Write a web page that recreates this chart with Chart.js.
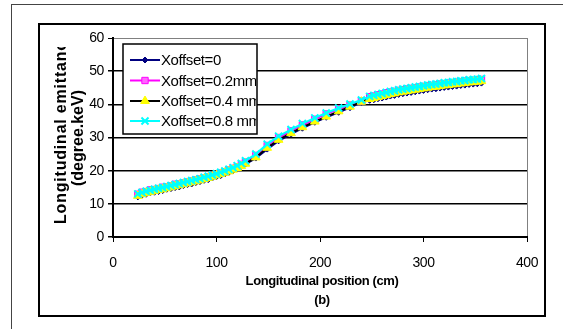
<!DOCTYPE html>
<html>
<head>
<meta charset="utf-8">
<script src="https://cdn.jsdelivr.net/npm/chart.js@4.4.1/dist/chart.umd.min.js"></script>
<style>
    html, body { margin: 0; padding: 0; background: #fff; }
    #wrap { width: 563px; height: 329px; }
</style>
</head>
<body>
<div id="wrap"><canvas id="emittanceChart" width="563" height="329"></canvas></div>
<script>
// longitudinal position (cm), shared by all four runs
const positions = [
    24, 28, 32, 36, 40, 44, 48, 52, 56, 60, 64, 68, 72, 76, 80, 84, 88, 92, 96, 100, 104, 108, 112, 116, 120, 124, 128,
    138, 149, 160, 172, 183, 195, 206, 218, 229, 240,
    248, 252, 256, 260, 264, 268, 272, 276, 280, 284, 288, 292, 296, 300, 304, 308, 312, 316, 320, 324, 328, 332, 336, 340, 344, 348, 352, 356
];

// longitudinal emittance (degree.keV)
const offset0 = [
    12.1, 12.6, 12.9, 13.3, 13.5, 13.7, 14.0, 14.4, 14.6, 14.9, 15.1, 15.5, 15.8, 16.0, 16.4, 16.7, 17.1, 17.3, 17.8, 18.2, 18.5, 19.0, 19.5, 20.0, 20.6, 21.3, 22.0,
    23.8, 26.5, 29.0, 31.0, 32.8, 34.6, 36.1, 37.6, 39.0, 40.6,
    41.2, 41.4, 41.7, 41.9, 42.2, 42.5, 42.7, 43.0, 43.2, 43.4, 43.6, 43.8, 44.0, 44.2, 44.4, 44.6, 44.7, 44.9, 45.1, 45.2, 45.4, 45.5, 45.7, 45.8, 46.0, 46.1, 46.2, 46.4
];
const offset02 = [
    12.9, 13.5, 13.7, 14.2, 14.3, 14.6, 15.0, 15.1, 15.4, 15.9, 16.0, 16.3, 16.6, 16.9, 17.2, 17.5, 17.8, 18.2, 18.5, 18.9, 19.3, 19.7, 20.2, 20.7, 21.2, 21.9, 22.6,
    24.6, 27.6, 30.0, 32.0, 33.8, 35.5, 37.1, 38.6, 39.8, 41.0,
    42.3, 42.5, 42.9, 43.1, 43.5, 43.7, 43.9, 44.2, 44.4, 44.6, 44.8, 45.0, 45.2, 45.4, 45.6, 45.7, 45.9, 46.1, 46.2, 46.4, 46.5, 46.7, 46.8, 47.0, 47.1, 47.2, 47.4, 47.5
];
const offset04 = [
    12.4, 12.9, 13.3, 13.6, 13.9, 14.2, 14.4, 14.7, 15.0, 15.3, 15.6, 15.9, 16.2, 16.5, 16.8, 17.1, 17.5, 17.8, 18.2, 18.6, 19.0, 19.4, 19.8, 20.3, 20.8, 21.4, 22.1,
    24.0, 26.9, 29.3, 31.3, 33.1, 34.8, 36.3, 37.9, 39.3, 40.8,
    41.6, 41.9, 42.2, 42.5, 42.8, 43.1, 43.3, 43.6, 43.8, 44.0, 44.2, 44.4, 44.6, 44.8, 45.0, 45.2, 45.3, 45.5, 45.7, 45.8, 46.0, 46.1, 46.3, 46.4, 46.6, 46.7, 46.8, 47.0
];
const offset08 = [
    13.0, 13.4, 13.8, 14.1, 14.4, 14.7, 14.9, 15.2, 15.5, 15.8, 16.1, 16.4, 16.7, 17.0, 17.3, 17.6, 18.0, 18.3, 18.7, 19.1, 19.5, 19.9, 20.4, 20.9, 21.5, 22.2, 23.0,
    25.0, 28.0, 30.4, 32.4, 34.2, 35.9, 37.4, 38.9, 40.1, 41.3,
    42.4, 42.7, 43.0, 43.3, 43.6, 43.9, 44.1, 44.4, 44.6, 44.8, 45.0, 45.2, 45.4, 45.6, 45.8, 46.0, 46.1, 46.3, 46.5, 46.6, 46.8, 46.9, 47.1, 47.2, 47.4, 47.5, 47.6, 47.8
];

const seriesLabels = ["Xoffset=0", "Xoffset=0.2mm", "Xoffset=0.4 mm", "Xoffset=0.8 mm"];
const xTicks = [0, 100, 200, 300, 400];
const yTicks = [0, 10, 20, 30, 40, 50, 60];

const FONT = "'Liberation Sans', Arial, sans-serif";

function toPoints(values) {
    return values.map((v, i) => ({ x: positions[i], y: v }));
}

function drawMarker(ctx, style, x, y, r, fill, stroke, lw) {
    ctx.save();
    ctx.fillStyle = fill;
    ctx.strokeStyle = stroke;
    ctx.lineWidth = lw;
    ctx.beginPath();
    if (style === "rectRot") {
        ctx.moveTo(x, y - r); ctx.lineTo(x + r, y); ctx.lineTo(x, y + r); ctx.lineTo(x - r, y);
        ctx.closePath(); ctx.fill(); ctx.stroke();
    } else if (style === "rect") {
        const s = r * Math.SQRT1_2;
        ctx.rect(x - s, y - s, 2 * s, 2 * s); ctx.fill(); ctx.stroke();
    } else if (style === "triangle") {
        ctx.moveTo(x, y - r); ctx.lineTo(x + r * 0.87, y + r * 0.5); ctx.lineTo(x - r * 0.87, y + r * 0.5);
        ctx.closePath(); ctx.fill(); ctx.stroke();
    } else if (style === "crossRot") {
        const s = r * Math.SQRT1_2;
        ctx.moveTo(x - s, y - s); ctx.lineTo(x + s, y + s);
        ctx.moveTo(x + s, y - s); ctx.lineTo(x - s, y + s);
        ctx.stroke();
    }
    ctx.restore();
}

const framePlugin = {
    id: "frames",
    beforeDraw(chart) {
        const ctx = chart.ctx;
        ctx.save();
        ctx.fillStyle = "#fff";
        ctx.fillRect(0, 0, chart.width, chart.height);
        ctx.strokeStyle = "#444";
        ctx.lineWidth = 1;
        ctx.strokeRect(11.5, 4.5, 620, 400);
        ctx.strokeStyle = "#000";
        ctx.lineWidth = 2;
        ctx.strokeRect(39, 24, 506, 292);
        ctx.restore();
        ctx.letterSpacing = "-0.4px";
    },
    afterDraw(chart) {
        const ctx = chart.ctx;
        const area = chart.chartArea;

        // legend box inside the plot
        const box = { x: 123, y: 44, w: 134, h: 90 };
        ctx.save();
        ctx.fillStyle = "#fff";
        ctx.fillRect(box.x, box.y, box.w, box.h);
        ctx.strokeStyle = "#000";
        ctx.lineWidth = 1.5;
        ctx.strokeRect(box.x, box.y, box.w, box.h);
        ctx.beginPath();
        ctx.rect(box.x + 1, box.y + 1, box.w - 2, box.h - 2);
        ctx.clip();
        const rows = [60, 80.5, 101, 121];
        chart.data.datasets.forEach((ds, i) => {
            const y = rows[i];
            ctx.strokeStyle = ds.borderColor;
            ctx.lineWidth = 2;
            ctx.beginPath();
            ctx.moveTo(130, y);
            ctx.lineTo(160, y);
            ctx.stroke();
            drawMarker(ctx, ds.pointStyle, 145, y, ds.pointRadius, ds.pointBackgroundColor, ds.pointBorderColor, ds.pointBorderWidth);
            ctx.fillStyle = "#000";
            ctx.font = "15px " + FONT;
            ctx.letterSpacing = "-0.4px";
            ctx.textAlign = "left";
            ctx.textBaseline = "middle";
            ctx.fillText(ds.label, 161, y + 1);
        });
        ctx.restore();

        // axis titles
        ctx.save();
        ctx.fillStyle = "#000";
        ctx.font = "bold 13px " + FONT;
        ctx.letterSpacing = "-0.4px";
        ctx.textAlign = "center";
        ctx.textBaseline = "middle";
        const cx = (area.left + area.right) / 2 + 2;
        ctx.fillText("Longitudinal position (cm)", cx, 281);
        ctx.fillText("(b)", cx, 300);
        ctx.restore();

        ctx.save();
        ctx.fillStyle = "#000";
        ctx.font = "bold 16px " + FONT;
        ctx.letterSpacing = "0.8px";
        ctx.textBaseline = "middle";
        ctx.beginPath();
        ctx.rect(0, 47, chart.width, chart.height - 47);
        ctx.clip();
        ctx.translate(62, 224);
        ctx.rotate(-Math.PI / 2);
        ctx.textAlign = "left";
        ctx.fillText("Longitudinal emittance", 0, 0);
        ctx.restore();

        ctx.save();
        ctx.fillStyle = "#000";
        ctx.font = "bold 16px " + FONT;
        ctx.letterSpacing = "0px";
        ctx.textBaseline = "middle";
        ctx.translate(79, 138);
        ctx.rotate(-Math.PI / 2);
        ctx.textAlign = "center";
        ctx.fillText("(degree.keV)", 0, 0);
        ctx.restore();
    }
};

Chart.defaults.font.family = FONT;
Chart.defaults.font.size = 14;
Chart.defaults.color = "#000";

new Chart(document.getElementById("emittanceChart"), {
    type: "scatter",
    data: {
        datasets: [
            {
                label: seriesLabels[0],
                data: toPoints(offset0),
                showLine: true,
                borderColor: "#000080",
                borderWidth: 2,
                pointStyle: "rectRot",
                pointRadius: 3,
                pointBackgroundColor: "#000080",
                pointBorderColor: "#000080",
                pointBorderWidth: 1,
                order: 3
            },
            {
                label: seriesLabels[1],
                data: toPoints(offset02),
                showLine: true,
                borderColor: "#ff00ff",
                borderWidth: 2,
                pointStyle: "rect",
                pointRadius: 4.5,
                pointBackgroundColor: "#ff66ff",
                pointBorderColor: "#ff00ff",
                pointBorderWidth: 1,
                order: 2
            },
            {
                label: seriesLabels[2],
                data: toPoints(offset04),
                showLine: true,
                borderColor: "#000000",
                borderWidth: 2,
                pointStyle: "triangle",
                pointRadius: 5,
                pointBackgroundColor: "#ffff00",
                pointBorderColor: "#ffff00",
                pointBorderWidth: 1,
                order: 1
            },
            {
                label: seriesLabels[3],
                data: toPoints(offset08),
                showLine: true,
                borderColor: "#00ffff",
                borderWidth: 2,
                pointStyle: "crossRot",
                pointRadius: 5,
                pointBackgroundColor: "#00ffff",
                pointBorderColor: "#00ffff",
                pointBorderWidth: 2,
                order: 0
            }
        ]
    },
    options: {
        responsive: false,
        animation: false,
        events: [],
        layout: { padding: { left: 0, top: 38, right: 36, bottom: 0 } },
        plugins: {
            legend: { display: false },
            tooltip: { enabled: false }
        },
        scales: {
            x: {
                type: "linear",
                min: xTicks[0],
                max: xTicks[xTicks.length - 1],
                afterBuildTicks: scale => { scale.ticks = xTicks.map(v => ({ value: v })); },
                afterFit: scale => { scale.height = 92; },
                ticks: { padding: 13, maxRotation: 0, font: { size: 14 } },
                grid: {
                    drawOnChartArea: true,
                    color: c => (c.tick && c.tick.value === 400 ? "#808080" : "rgba(0,0,0,0)"),
                    tickColor: "#000",
                    tickLength: 5,
                    lineWidth: 1
                },
                border: { color: "#000", width: 2 }
            },
            y: {
                min: yTicks[0],
                max: yTicks[yTicks.length - 1],
                afterBuildTicks: scale => { scale.ticks = yTicks.map(v => ({ value: v })); },
                afterFit: scale => { scale.width = 113; },
                ticks: { padding: 4, font: { size: 14 } },
                grid: {
                    color: c => (c.tick && c.tick.value === 60 ? "#808080" : "#000"),
                    lineWidth: c => (c.tick && c.tick.value === 60 ? 1 : 1.5),
                    tickColor: "#000",
                    tickLength: 5
                },
                border: { color: "#000", width: 2 }
            }
        }
    },
    plugins: [framePlugin]
});
</script>
</body>
</html>
